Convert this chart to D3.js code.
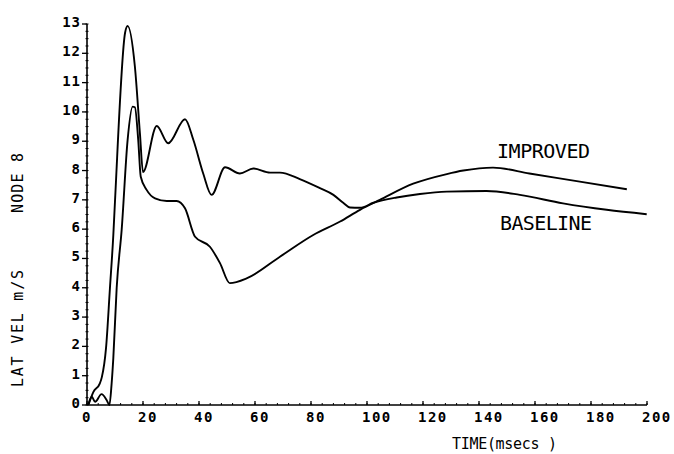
<!DOCTYPE html>
<html>
<head>
<meta charset="utf-8">
<script src="https://cdn.jsdelivr.net/npm/d3@7"></script>
<style>
  body { margin: 0; background: #fff; }
  svg { display: block; }
  text { font-family: "DejaVu Sans Mono", monospace; fill: #000; }
</style>
</head>
<body>
<script>
// values (time in msecs, lateral velocity in m/s)
const improvedT = [0.5, 1.7, 2.9, 5.2, 7, 8, 8.8, 9.4, 10.6, 12.4, 14.5, 16.3, 17.1, 18.3, 19.2, 21.3, 24.3, 28.5, 32, 35, 38.6, 43.9, 47.5, 51, 57, 68.9, 80.8, 90.4, 97.5, 104.6, 116.5, 128.5, 134.4, 145, 158, 176, 192.8];
const improvedV = [0.03, 0.28, 0.11, 0.37, 0.17, 0, 0.74, 1.6, 4.0, 6.0, 9.04, 10.18, 10.16, 9.04, 7.79, 7.34, 7.05, 6.96, 6.96, 6.71, 5.74, 5.4, 4.84, 4.16, 4.32, 5.06, 5.8, 6.26, 6.66, 7.0, 7.55, 7.88, 8.0, 8.1, 7.9, 7.62, 7.36];

const baselineT = [0.5, 2.3, 4.6, 5.3, 6.8, 8.2, 9.4, 10, 13.6, 14.5, 17.1, 18.9, 20, 24.9, 29, 35, 38, 41.5, 44.5, 49.3, 54.6, 59.4, 65.4, 68.9, 76, 83.2, 88, 91.5, 93.9, 97.5, 102.3, 110.6, 118.9, 128.5, 142.7, 154.6, 170, 185.6, 199.9];
const baselineV = [0, 0.45, 0.74, 0.95, 1.95, 4.0, 5.8, 6.96, 12.7, 12.93, 11.55, 9.27, 7.95, 9.52, 8.93, 9.75, 9.04, 7.9, 7.17, 8.11, 7.9, 8.07, 7.93, 7.93, 7.71, 7.4, 7.17, 6.9, 6.74, 6.73, 6.9, 7.08, 7.2, 7.28, 7.3, 7.17, 6.88, 6.66, 6.51];

const xTicks = [0, 20, 40, 60, 80, 100, 120, 140, 160, 180, 200];
const yTicks = [0, 1, 2, 3, 4, 5, 6, 7, 8, 9, 10, 11, 12, 13];

const w = 674, h = 454;
const x = d3.scaleLinear().domain([0, 200]).range([87, 647]);
const y = d3.scaleLinear().domain([0, 13]).range([405, 24]);

const svg = d3.select("body").append("svg")
  .attr("width", w)
  .attr("height", h);

// axes lines
svg.append("line")
  .attr("x1", x(0)).attr("x2", x(200))
  .attr("y1", y(0)).attr("y2", y(0))
  .attr("stroke", "#000").attr("stroke-width", 1.6);
svg.append("line")
  .attr("x1", x(0)).attr("x2", x(0))
  .attr("y1", y(0)).attr("y2", y(13))
  .attr("stroke", "#000").attr("stroke-width", 1.6);

// minor ticks
svg.selectAll(".xminor")
  .data(d3.range(0, 201, 4))
  .enter().append("line")
  .attr("x1", (d) => x(d)).attr("x2", (d) => x(d))
  .attr("y1", y(0)).attr("y2", y(0) - 2)
  .attr("stroke", "#000").attr("stroke-width", 1);
svg.selectAll(".yminor")
  .data(d3.range(0, 13.01, 0.25))
  .enter().append("line")
  .attr("x1", x(0) - 1.5).attr("x2", x(0) + 1.5)
  .attr("y1", (d) => y(d)).attr("y2", (d) => y(d))
  .attr("stroke", "#000").attr("stroke-width", 1);

// major ticks
svg.selectAll(".xmajor")
  .data(xTicks)
  .enter().append("line")
  .attr("x1", (d) => x(d)).attr("x2", (d) => x(d))
  .attr("y1", y(0)).attr("y2", y(0) - 4)
  .attr("stroke", "#000").attr("stroke-width", 1.3);
svg.selectAll(".ymajor")
  .data(yTicks)
  .enter().append("line")
  .attr("x1", x(0) - 5).attr("x2", x(0))
  .attr("y1", (d) => y(d)).attr("y2", (d) => y(d))
  .attr("stroke", "#000").attr("stroke-width", 1.3);

// tick labels
svg.selectAll(".xlab")
  .data(xTicks)
  .enter().append("text")
  .attr("x", (d) => x(d) - 5)
  .attr("y", 422)
  .attr("font-size", "14px")
  .attr("font-weight", "bold")
  .attr("letter-spacing", "1.5px")
  .text((d) => d);

svg.selectAll(".ylab")
  .data(yTicks)
  .enter().append("text")
  .attr("x", x(0) - 6)
  .attr("y", (d) => y(d) + 3)
  .attr("text-anchor", "end")
  .attr("font-size", "14px")
  .attr("font-weight", "bold")
  .attr("letter-spacing", "1px")
  .text((d) => d);

// axis titles
svg.append("text")
  .attr("x", 452).attr("y", 449)
  .attr("font-size", "15px")
  .attr("textLength", 105)
  .text("TIME(msecs )");

svg.append("text")
  .attr("transform", "translate(23,387) rotate(-90)")
  .attr("font-size", "15px")
  .attr("textLength", 117)
  .text("LAT VEL m/S");

svg.append("text")
  .attr("transform", "translate(23,213) rotate(-90)")
  .attr("font-size", "15px")
  .attr("textLength", 60)
  .text("NODE 8");

// curves
const line = d3.line()
  .x((d) => x(d[0]))
  .y((d) => y(d[1]))
  .curve(d3.curveMonotoneX);

svg.append("path")
  .datum(d3.zip(improvedT, improvedV))
  .attr("d", line)
  .attr("fill", "none")
  .attr("stroke", "#000")
  .attr("stroke-width", 1.9);

svg.append("path")
  .datum(d3.zip(baselineT, baselineV))
  .attr("d", line)
  .attr("fill", "none")
  .attr("stroke", "#000")
  .attr("stroke-width", 1.9);

// curve labels
svg.append("text")
  .attr("x", 497).attr("y", 158)
  .attr("font-family", "DejaVu Sans Condensed, DejaVu Sans, sans-serif")
  .attr("font-size", "20px")
  .attr("textLength", 93)
  .text("IMPROVED");

svg.append("text")
  .attr("x", 500).attr("y", 230)
  .attr("font-family", "DejaVu Sans Condensed, DejaVu Sans, sans-serif")
  .attr("font-size", "20px")
  .attr("textLength", 92)
  .text("BASELINE");
</script>
</body>
</html>
